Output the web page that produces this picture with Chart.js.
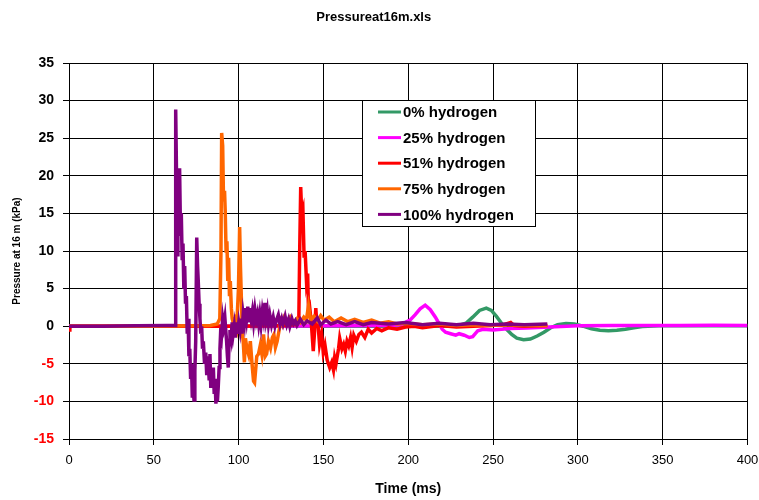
<!DOCTYPE html>
<html>
<head>
<meta charset="utf-8">
<script src="https://cdn.jsdelivr.net/npm/chart.js@4.4.1/dist/chart.umd.min.js"></script>
<style>
html,body{margin:0;padding:0;background:#fff;}
#wrap{width:759px;height:500px;position:relative;}
</style>
</head>
<body>
<div id="wrap"><canvas id="c" width="759" height="500"></canvas></div>
<script>
// ---- Data (time in ms, pressure in kPa) ----
const chartTitle = "Pressureat16m.xls";
const xTitle = "Time (ms)";
const yTitle = "Pressure at 16 m (kPa)";
const seriesLabels = ["0% hydrogen", "25% hydrogen", "51% hydrogen", "75% hydrogen", "100% hydrogen"];
const xTickValues = [0, 50, 100, 150, 200, 250, 300, 350, 400];
const yTickValues = [-15, -10, -5, 0, 5, 10, 15, 20, 25, 30, 35];

const t0 = [0, 100, 200, 226, 230, 234, 238, 242, 246, 249, 252, 255, 258, 261, 264, 268, 272, 276, 280, 284, 288, 293, 298, 303, 308, 313, 318, 323, 328, 333, 338, 348, 370, 400];
const p0 = [0, 0, 0, 0, 0.1, 0.4, 1.2, 2.1, 2.4, 2.1, 1.3, 0.4, -0.4, -1.1, -1.6, -1.8, -1.7, -1.3, -0.8, -0.2, 0.2, 0.35, 0.3, 0, -0.35, -0.55, -0.6, -0.55, -0.4, -0.2, -0.05, 0.05, 0.05, 0.05];

const t25 = [0, 100, 190, 196, 199, 201, 204, 207, 210, 213, 216, 218, 220, 222, 225, 228, 230, 233, 236, 238, 241, 244, 250, 255, 260, 270, 280, 290, 300, 320, 340, 360, 380, 400];
const p25 = [0, 0, 0.1, 0.2, 0.6, 0.8, 1.5, 2.3, 2.8, 2.2, 1.2, 0.4, -0.4, -0.8, -1.0, -1.2, -1.0, -1.2, -1.5, -1.4, -0.6, -0.4, -0.5, -0.4, -0.3, -0.25, -0.15, -0.05, 0.05, 0.1, 0.1, 0.1, 0.12, 0.1];

const t51 = [0, 0.5, 1, 50, 100, 128, 134, 135.5, 136, 136.6, 137.2, 137.9, 138.6, 139.2, 140, 140.7, 141.2, 141.9, 142.9, 144, 144.7, 145.5, 146.2, 146.9, 147.7, 148.9, 149.9, 150.9, 152.2, 153.7, 154.9, 155.9, 156.6, 157.4, 158.9, 159.6, 160.9, 161.9, 162.9, 163.9, 164.9, 166, 166.9, 167.9, 169.4, 170.9, 172.4, 174.4, 176.4, 178.4, 181.4, 184.4, 188.4, 193.4, 198.4, 203.4, 208.4, 218.4, 228.4, 238.4, 248.4, 256.4, 260.4, 262.4, 268.4, 282];
const p51 = [-0.5, -0.3, 0, 0, 0, 0.1, 0.2, 1, 10, 18.5, 14.9, 15.5, 9.1, 10, 6, 7, 2, 2.5, 0.3, -3.3, -1, 2.4, 0, 0, -2.4, -1, -3.5, -2.5, -4.5, -5.5, -4.8, -5.8, -4.2, -5, -3, -1.6, -3, -2.4, -3.3, -2, -2.6, -1.5, -2.8, -1.2, -2, -1.1, -0.8, -1.5, -0.4, -0.9, -0.3, -0.6, -0.2, -0.4, -0.1, 0, -0.2, 0.1, -0.1, 0, 0.1, 0.2, 0.5, 0.1, 0, 0.1];

const t75 = [0, 50, 83.4, 87.4, 88.9, 89.6, 90, 90.6, 91.1, 91.7, 92.1, 92.6, 93.1, 93.6, 94.1, 94.6, 95.1, 95.7, 96.2, 96.8, 97.9, 98.9, 99.9, 100.6, 101.1, 101.7, 102.2, 102.7, 103.4, 104, 104.9, 105.9, 106.9, 107.9, 108.8, 109.4, 110.7, 111.7, 112.8, 113.7, 114.7, 115.7, 116.5, 117.6, 118.8, 119.9, 120.8, 121.7, 122.7, 123.9, 124.9, 125.9, 126.9, 128.4, 130.4, 132.4, 134.4, 136.4, 138.4, 139.9, 141.2, 142.4, 144.4, 146.4, 148.4, 150.4, 153.4, 156.4, 160.4, 164.4, 168.4, 173.4, 178.4, 183.4, 188.4, 193.4, 198.4, 208.4, 218.4, 228.4, 238.4, 248.4, 258.4, 268.4, 282];
const p75 = [0, 0, 0.1, 0.3, 1, 10, 25.7, 24, 16.6, 18, 15.3, 10, 11.3, 6, 9.1, 4, 6, 2.4, 1, 0.5, 1, 0, 5, 13.2, 7.8, 3, -1, -2, -4.8, -1.6, -3, -3.8, -2, -5, -7.3, -7.5, -4, -3.7, -2.5, -3.7, -1.1, -4, -3.7, -2, -2.9, -1.5, -1.1, -2.8, -2, -0.5, 0.7, 0.2, 1.1, 0.5, 1.2, 0.4, 1, 0.5, 1.2, 0.8, 2.7, 0.9, 1.3, 0.7, 1.4, 0.8, 1.2, 0.6, 1.1, 0.6, 0.9, 0.5, 0.8, 0.4, 0.6, 0.3, 0.4, 0.2, 0.3, 0.1, 0.2, 0.1, 0.2, 0.1, 0.1];

const t100 = [0, 20, 40, 58, 62.7, 62.9, 63.4, 63.8, 64.2, 64.7, 65.2, 65.7, 66.2, 66.7, 67.2, 67.7, 68.2, 68.7, 69.2, 69.7, 70.2, 70.7, 71.2, 71.7, 72.2, 72.7, 73.2, 73.7, 74.2, 74.7, 75.3, 75.8, 76.2, 76.7, 77.2, 77.7, 78.2, 78.7, 79.2, 79.9, 80.6, 81.2, 81.9, 82.6, 83.1, 83.6, 84.1, 84.6, 85.1, 85.6, 86.1, 86.6, 87, 87.5, 88, 88.5, 89, 89.5, 90, 90.6, 91.2, 91.9, 92.4, 92.9, 93.4, 93.9, 94.4, 94.9, 95.6, 96.2, 96.8, 97.4, 98, 98.8, 99.4, 100.1, 100.8, 101.4, 102, 102.7, 103.4, 104, 104.7, 105.4, 106, 106.6, 107.4, 108.1, 108.8, 109.6, 110.4, 111.1, 111.8, 112.5, 113.2, 114, 114.7, 115.5, 116.2, 116.9, 117.6, 118.4, 119.4, 120.4, 121.4, 122.3, 123.4, 124.4, 125.4, 126.2, 127.4, 128.4, 129.4, 130.2, 131.4, 132.4, 133.4, 134.4, 136.4, 138.4, 140.4, 143.4, 146.4, 148.4, 151.4, 154.4, 158.4, 163.4, 168.4, 173.4, 178.4, 188.4, 198.4, 208.4, 218.4, 228.4, 238.4, 248.4, 258.4, 268.4, 282];
const p100 = [0, 0, 0.05, 0.1, 0.1, 28.8, 20, 9.5, 16, 12, 21, 13, 15, 9, 11, 5, 8, 3, 4, -1, 1, -4, -3, -7, -5, -9.5, -8, -9.8, -6, -2, 11.8, 8, 6, 3, 1, -1, 0, -3, -2, -5, -3.5, -6.5, -4, -7, -3.7, -8.2, -6, -8, -5.5, -9, -7, -10.3, -9, -10, -8, -5.5, -3, -0.2, -1, 1, 0, 1.1, -0.5, -2, -4, -5.5, -2, -0.5, -1.5, 0.5, -1, 0, -1.5, 0.5, -1, 0.5, -0.5, 1, -1, 1.6, 0.5, 2.4, 1, 2.6, 0.5, 2.4, 1, 2, 0.5, 2.2, 0.8, 1.6, 0.3, 1.6, 0.2, 2, 1, 3.1, 1, 2, 0.3, 1.5, 0.2, 1.2, 0, 0.8, 1.5, 0.2, 1, 0.3, 1.3, 0.2, 0.9, 0, 1, 0.3, 0.7, 0.1, 0.9, 0.2, 0.7, 0.3, 1.1, 0.2, 0.8, 0.3, 0.6, 0.2, 0.6, 0.2, 0.5, 0.3, 0.5, 0.2, 0.4, 0.2, 0.4, 0.2, 0.3, 0.2, 0.3];

const seriesTimes = [t0, t25, t51, t75, t100];
const seriesValues = [p0, p25, p51, p75, p100];
const seriesColors = ["#339966", "#ff00ff", "#ff0000", "#ff6600", "#800080"];

// ---- Build datasets ----
const datasets = seriesLabels.map((label, i) => ({
  label: label,
  data: seriesTimes[i].map((t, k) => ({x: t, y: seriesValues[i][k]})),
  borderColor: seriesColors[i],
  backgroundColor: seriesColors[i],
  borderWidth: 3.5,
  pointRadius: 0,
  tension: 0,
  fill: false,
  order: 5 - i
}));

const FONT = "'Liberation Sans', Arial, sans-serif";

const legendBox = {
  id: 'legendBox',
  afterDatasetsDraw(chart) {
    const ctx = chart.ctx;
    const x0 = 362, y0 = 100, w = 173, h = 126;
    ctx.save();
    ctx.fillStyle = '#fff';
    ctx.fillRect(x0, y0, w, h);
    ctx.strokeStyle = '#000';
    ctx.lineWidth = 1;
    ctx.strokeRect(x0 + 0.5, y0 + 0.5, w, h);
    ctx.font = "bold 15px " + FONT;
    ctx.textBaseline = 'middle';
    ctx.textAlign = 'left';
    chart.data.datasets.forEach((ds, i) => {
      const cy = 112 + i * 25.6;
      ctx.strokeStyle = ds.borderColor;
      ctx.lineWidth = 3;
      ctx.beginPath();
      ctx.moveTo(378, cy);
      ctx.lineTo(401, cy);
      ctx.stroke();
      ctx.fillStyle = '#000';
      ctx.fillText(ds.label, 403, cy + 1);
    });
    ctx.restore();
  }
};

new Chart(document.getElementById('c'), {
  type: 'line',
  data: { datasets: datasets },
  plugins: [legendBox],
  options: {
    responsive: false,
    animation: false,
    layout: { padding: { left: 0, right: 11.5, top: 0, bottom: 0 } },
    plugins: {
      legend: { display: false },
      tooltip: { enabled: false },
      title: {
        display: true,
        text: chartTitle,
        color: '#000',
        font: { family: FONT, size: 13, weight: 'bold' },
        padding: { top: 10, bottom: 37.4 }
      }
    },
    scales: {
      x: {
        type: 'linear',
        min: 0, max: 400,
        afterBuildTicks: s => { s.ticks = xTickValues.map(v => ({value: v})); },
        afterFit: s => { s.height = 61; s.paddingLeft = 0; s.paddingRight = 0; },
        ticks: { color: '#000', font: { family: FONT, size: 13 }, padding: 8, maxRotation: 0 },
        grid: { color: '#000', lineWidth: 1, tickLength: 6, drawTicks: true },
        border: { color: '#000', width: 1 },
        title: { display: true, text: xTitle, color: '#000', font: { family: FONT, size: 14, weight: 'bold' }, padding: { top: 2, bottom: 2 } }
      },
      y: {
        type: 'linear',
        min: -15, max: 35,
        afterBuildTicks: s => { s.ticks = yTickValues.map(v => ({value: v})); },
        afterFit: s => { s.width = 69; s.paddingTop = 0; s.paddingBottom = 0; },
        ticks: {
          color: c => (c.tick && c.tick.value < 0) ? '#ff0000' : '#000',
          font: { family: FONT, size: 14, weight: 'bold' },
          padding: 9
        },
        grid: { color: '#000', lineWidth: 1, tickLength: 6, drawTicks: true },
        border: { color: '#000', width: 1 },
        title: { display: true, text: yTitle, color: '#000', font: { family: FONT, size: 10, weight: 'bold' }, padding: { top: 11, bottom: 11 } }
      }
    }
  }
});
</script>
</body>
</html>
